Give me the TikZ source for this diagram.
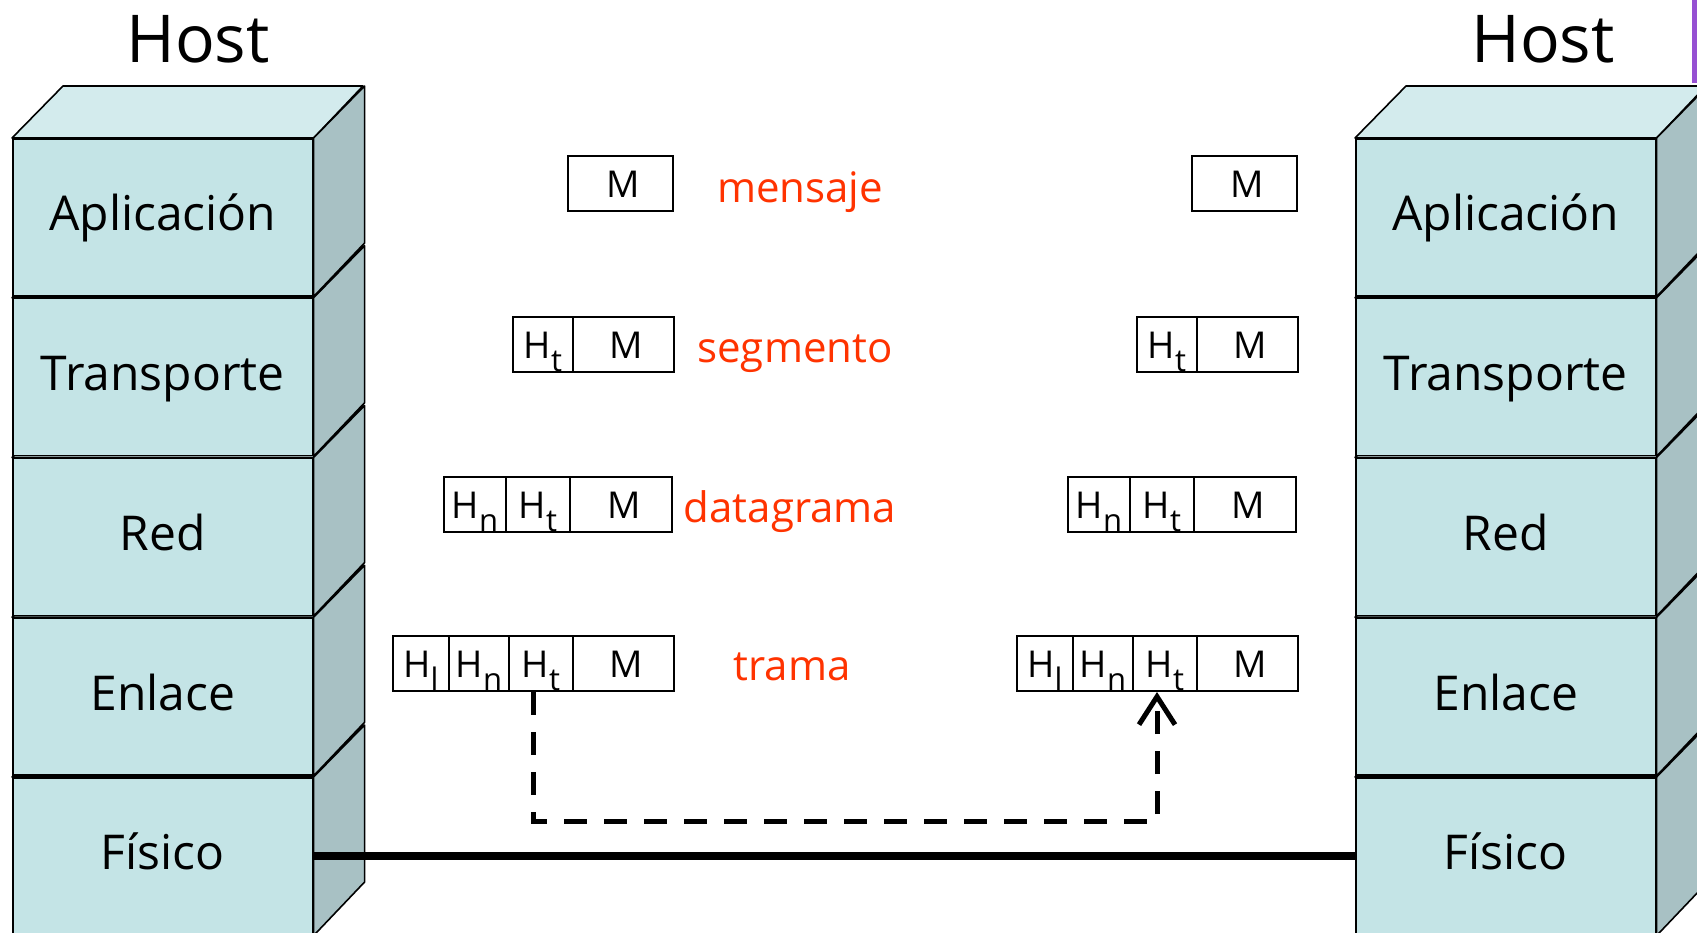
\documentclass[tikz,border=0pt]{standalone}
\usepackage{fontspec}
\setmainfont{Open Sans}
\usetikzlibrary{arrows.meta}
\definecolor{frontc}{RGB}{196,228,230}
\definecolor{topc}{RGB}{211,235,237}
\definecolor{sidec}{RGB}{168,193,196}
\definecolor{labred}{RGB}{255,51,0}
\definecolor{purpbar}{RGB}{150,80,210}
\newcommand{\Hs}[1]{H\raisebox{-13pt}{\fontsize{31}{33}\selectfont #1}}
\tikzset{
  layerfront/.style={draw=black, line width=1.6pt, fill=frontc, minimum width=300pt, minimum height=157pt,
     inner sep=0pt, anchor=north west, font=\fontsize{48}{54}\selectfont, text height=27pt, text depth=0pt},
  topface/.style={draw=black, line width=1.6pt, fill=topc, line join=round},
  sideface/.style={draw=black, line width=1.6pt, fill=sidec, line join=round},
  hostlabel/.style={anchor=base, font=\fontsize{66}{70}\selectfont, inner sep=0pt},
  pdulabel/.style={anchor=base, text=labred, font=\fontsize{42}{48}\selectfont, inner sep=0pt},
  cell/.style={draw=black, line width=2pt, minimum height=55pt, inner sep=0pt, anchor=north west,
     font=\fontsize{37}{40}\selectfont, text height=27pt, text depth=0pt},
  dashline/.style={line width=5pt, dash pattern=on 23pt off 17pt},
  phyline/.style={line width=8pt},
}
\begin{document}
\begin{tikzpicture}[x=1pt,y=-1pt]
\path[use as bounding box] (0,0) rectangle (1697,932);
\clip (0,0) rectangle (1697,932);
\fill[white] (0,0) rectangle (1697,932);

% purple bar at the right edge
\fill[purpbar] (1692,0) rectangle (1697,83);

% host titles
\node[hostlabel] (hostL) at (198,62) {Host};
\node[hostlabel] (hostR) at (1543,62) {Host};

% stacks
\foreach \i/\lab in {4/Físico,3/Enlace,2/Red,1/Transporte,0/Aplicación}{
  \pgfmathsetmacro{\ty}{138+159.75*\i}
  % left host
  \node[layerfront] (L\i) at (12,\ty) {\lab};
  \draw[topface] (L\i.north west) -- ++(51,-52) -- ++(300,0) -- (L\i.north east) -- cycle;
  \draw[sideface] (L\i.north east) -- ++(51,-52) -- ++(0,157) -- (L\i.south east) -- cycle;
  % right host
  \node[layerfront] (R\i) at (1355,\ty) {\lab};
  \draw[topface] (R\i.north west) -- ++(51,-52) -- ++(300,0) -- (R\i.north east) -- cycle;
  \draw[sideface] (R\i.north east) -- ++(51,-52) -- ++(0,157) -- (R\i.south east) -- cycle;
}

% physical link
\draw[phyline] (L4.east) -- (R4.west);

% left PDUs
\node[cell, minimum width=105pt] (lm0) at (567,155) {\hspace{6pt}M};

\node[cell, minimum width=60pt]  (lt1) at (512,316) {\Hs{t}};
\node[cell, minimum width=101pt] (lm1) at (572,316) {\hspace{6pt}M};

\node[cell, minimum width=62pt]  (ln2) at (443,476) {\Hs{n}};
\node[cell, minimum width=64pt]  (lt2) at (505,476) {\Hs{t}};
\node[cell, minimum width=102pt] (lm2) at (569,476) {\hspace{6pt}M};

\node[cell, minimum width=56pt]  (ll3) at (392,635) {\Hs{l}};
\node[cell, minimum width=60pt]  (ln3) at (448,635) {\Hs{n}};
\node[cell, minimum width=64pt]  (lt3) at (508,635) {\Hs{t}};
\node[cell, minimum width=101pt] (lm3) at (572,635) {\hspace{6pt}M};

% right PDUs
\node[cell, minimum width=105pt] (rm0) at (1191,155) {\hspace{6pt}M};

\node[cell, minimum width=60pt]  (rt1) at (1136,316) {\Hs{t}};
\node[cell, minimum width=101pt] (rm1) at (1196,316) {\hspace{6pt}M};

\node[cell, minimum width=62pt]  (rn2) at (1067,476) {\Hs{n}};
\node[cell, minimum width=64pt]  (rt2) at (1129,476) {\Hs{t}};
\node[cell, minimum width=102pt] (rm2) at (1193,476) {\hspace{6pt}M};

\node[cell, minimum width=56pt]  (rl3) at (1016,635) {\Hs{l}};
\node[cell, minimum width=60pt]  (rn3) at (1072,635) {\Hs{n}};
\node[cell, minimum width=64pt]  (rt3) at (1132,635) {\Hs{t}};
\node[cell, minimum width=101pt] (rm3) at (1196,635) {\hspace{6pt}M};

% PDU names
\node[pdulabel] (mensaje)   at (800,202) {mensaje};
\node[pdulabel] (segmento)  at (795,362) {segmento};
\node[pdulabel] (datagrama) at (790,522) {datagrama};
\node[pdulabel] (trama)     at (792,680) {trama};

% logical link between link layers
\draw[dashline, -{Straight Barb[length=28pt,width=36pt,line width=5pt]}]
  ([xshift=-8pt]lt3.south) -- ++(0,129) -| ([xshift=-8pt]rt3.south);
\end{tikzpicture}
\end{document}
